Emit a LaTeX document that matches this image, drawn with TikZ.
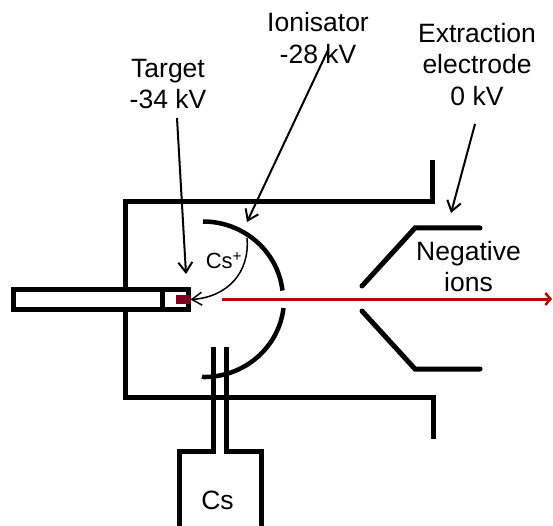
\documentclass[tikz,border=0pt]{standalone}
\usepackage{fontspec}
\setmainfont{Liberation Sans}
\usetikzlibrary{arrows.meta}
\definecolor{beamred}{RGB}{192,0,0}
\definecolor{targetred}{RGB}{128,0,32}
\tikzset{
  x=1pt,y=-1pt,
  wall/.style={line width=5pt,line cap=rect,line join=miter,black},
  thinwall/.style={line width=4.5pt,line cap=butt,black},
  pointer/.style={line width=2pt,black,-{Straight Barb[length=10pt,width=14pt,line width=2pt]}},
  lbl/.style={font=\fontsize{26.5}{31.5}\selectfont,align=center,inner sep=0pt,text=black},
  beam/.style={line width=3pt,beamred,-{Straight Barb[length=5pt,width=12pt,line width=2.5pt]}}
}
\begin{document}
\begin{tikzpicture}
\useasboundingbox (0,0) rectangle (553,526);
% housing
\draw[wall] (432.5,163) -- (432.5,201.7) -- (125.5,201.7) -- (125.5,288);
\draw[wall] (125.5,311) -- (125.5,397.7) -- (433.5,397.7) -- (433.5,436);
% target rod
\node[draw,line width=5pt,outer sep=0pt,minimum width=175pt,minimum height=19.5pt,inner sep=0pt,anchor=north west] (rod) at (13.5,289.5) {};
\draw[line width=5pt] (162.7,289.5) -- (162.7,309);
\node[fill=targetred,outer sep=0pt,minimum width=14.5pt,minimum height=9pt,inner sep=0pt,anchor=north west] (target) at (176,295) {};
% ionisator
\draw[thinwall] (203,221.5) arc[start angle=-90,end angle=-6.6,x radius=80,y radius=78];
\draw[thinwall] (283.5,308) arc[start angle=6.6,end angle=90,x radius=80,y radius=78] -- (202,376.5);
% extraction electrode
\draw[line width=5pt,line cap=round,line join=miter] (362,286) -- (415,228) -- (480,228);
\draw[line width=5pt,line cap=round,line join=miter] (362,311) -- (415,369) -- (480,369);
% Cs oven
\draw[line width=5pt,line join=miter] (213.5,347) -- (213.5,451.5) -- (179,451.5) -- (179,526);
\draw[line width=5pt,line join=miter] (226,347) -- (226,451.5) -- (261,451.5) -- (261,526);
\node[lbl] (cs) at (217.5,500) {Cs};
% beam
\coordinate (beamstart) at (222,299);
\coordinate (beamend) at (552,299);
\draw[beam] (beamstart) -- (beamend);
% Cs+ trajectory
\coordinate (csstart) at (247,238);
\draw[line width=1.5pt,-{Straight Barb[length=10pt,width=13pt,line width=1.5pt]}] (csstart) .. controls (250,272) and (228,297) .. (target.east);
\node[font=\fontsize{22}{24}\selectfont,inner sep=0pt] (csplus) at (224,260.5) {Cs\textsuperscript{+}};
% labels
\node[lbl] (tlabel) at (168,84) {Target\\-34 kV};
\node[lbl] (ilabel) at (318,38) {Ionisator\\-28 kV};
\node[lbl] (elabel) at (477,64.5) {Extraction\\electrode\\0 kV};
\node[lbl] (nlabel) at (468.5,266.5) {Negative\\ions};
% pointers
\coordinate (tfrom) at (177,118);
\coordinate (tto) at (186,274);
\coordinate (ifrom) at (328,50);
\coordinate (ito) at (247,222);
\coordinate (efrom) at (475,124);
\coordinate (eto) at (451,213);
\draw[pointer] (tfrom) -- (tto);
\draw[pointer] (ifrom) -- (ito);
\draw[pointer] (efrom) -- (eto);
\end{tikzpicture}
\end{document}
